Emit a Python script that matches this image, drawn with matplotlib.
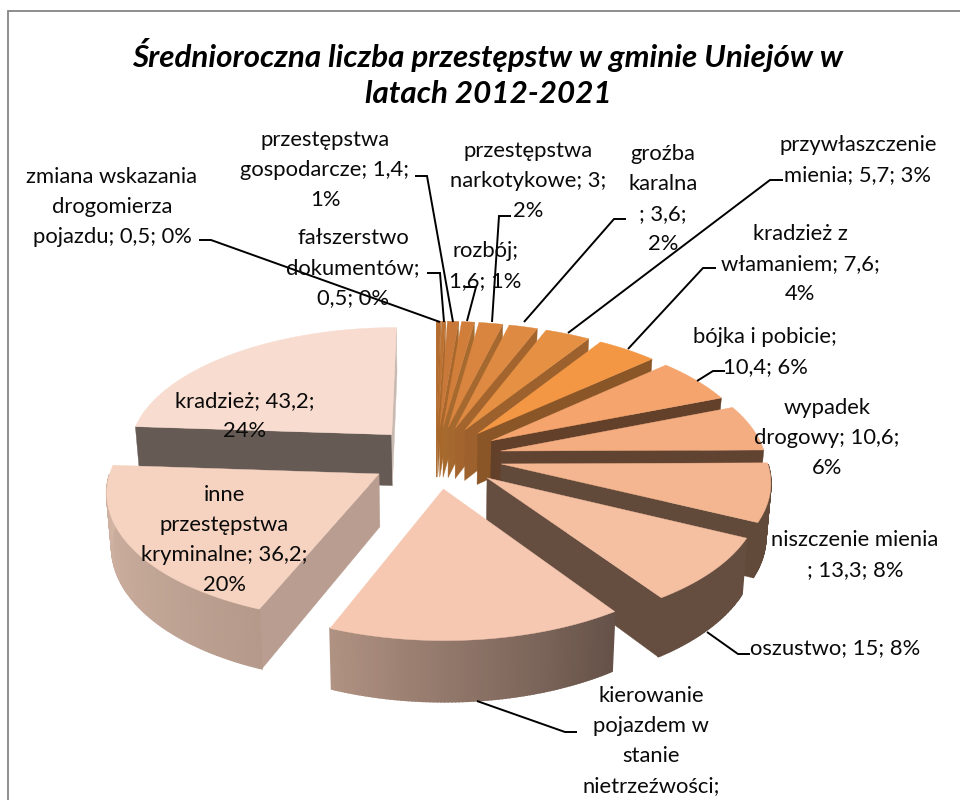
import numpy as np
import matplotlib
matplotlib.use("Agg")
import matplotlib.pyplot as plt
from matplotlib.colors import to_rgb

plt.rcParams['font.family'] = ['Lato', 'DejaVu Sans']

categories = ["zmiana wskazania drogomierza pojazdu", "fałszerstwo dokumentów",
              "przestępstwa gospodarcze", "rozbój", "przestępstwa narkotykowe",
              "groźba karalna", "przywłaszczenie mienia", "kradzież z włamaniem",
              "bójka i pobicie", "wypadek drogowy", "niszczenie mienia", "oszustwo",
              "kierowanie pojazdem w stanie nietrzeźwości",
              "inne przestępstwa kryminalne", "kradzież"]
values = [0.5, 0.5, 1.4, 1.6, 3, 3.6, 5.7, 7.6, 10.4, 10.6, 13.3, 15, 28, 36.2, 43.2]
label_texts = ["zmiana wskazania\ndrogomierza\npojazdu; 0,5; 0%",
               "fałszerstwo\ndokumentów;\n0,5; 0%",
               "przestępstwa\ngospodarcze; 1,4;\n1%",
               "rozbój;\n1,6; 1%",
               "przestępstwa\nnarkotykowe; 3;\n2%",
               "groźba\nkaralna\n; 3,6;\n2%",
               "przywłaszczenie\nmienia; 5,7; 3%",
               "kradzież z\nwłamaniem; 7,6;\n4%",
               "bójka i pobicie;\n10,4; 6%",
               "wypadek\ndrogowy; 10,6;\n6%",
               "niszczenie mienia\n; 13,3; 8%",
               "oszustwo; 15; 8%",
               "kierowanie\npojazdem w\nstanie\nnietrzeźwości;",
               "inne\nprzestępstwa\nkryminalne; 36,2;\n20%",
               "kradzież; 43,2;\n24%"]
label_xy = [(112, 207), (353, 268), (325, 170), (485, 266), (528, 181), (663, 199), (858, 160),
            (800, 264), (765, 352), (827, 438), (855, 555), (835, 648), (651, 741), (224, 540), (245, 416)]
top_colors = ["#B56B2E", "#BD7232", "#C87838", "#D17E3B", "#D9843F", "#DF8A42", "#E59043", "#F39745",
              "#F4A46C", "#F4AD81", "#F4B690", "#F5BFA2", "#F6C8B1", "#F6D3C1", "#F8DCD0"]
radial_colors = ["#A8682C", "#A8682C", "#A8682C", "#A66A2F", "#A5682E", "#A3652D", "#9C612C", "#8A5628",
                 "#63402A", "#604331", "#624A3A", "#654D3F", "#7A6252", "#B89D90", "#665A54"]
rim_left = ["#A8682C"] * 8 + ["#63402A", "#604331", "#624A3A", "#654D3F", "#B09282", "#D4B6A6", "#665A54"]
rim_right = ["#A8682C"] * 8 + ["#63402A", "#604331", "#624A3A", "#654D3F", "#655148", "#B59A8B", "#665A54"]
leaders = [[(199, 240), (211, 240), (440, 322)], [(427, 273), (440, 273), (444, 322)],
           [(415, 176), (427, 176), (453, 322)], [(465, 287), (476, 287), (467, 321)],
           [(511, 216), (499, 216), (492, 322)], [(626, 219), (614, 219), (524, 322)],
           [(783, 180), (770, 180), (568, 333)], [(716, 268), (703, 268), (628, 349)],
           [(725, 371), (713, 371), (697, 381)], None, None,
           [(750, 654), (738, 654), (707, 632)], [(577, 732), (565, 732), (477, 701)], None, None]
title_text = "Średnioroczna liczba przestępstw w gminie Uniejów w\nlatach 2012-2021"

CX, CY, A, B, P, EXPLODE, DEPTH = 436, 457, 265, 125, 0.12, 0.25, 52


def project(X, Y, z=0.0):
    s = 1 + P * Y
    x = CX + A * X / s
    y = CY - B * Y / s + z * DEPTH / s
    x = CX + (x - CX) * (1 - 0.015 * z)
    return x, y


fig = plt.figure(figsize=(9.6, 8), dpi=100)
ax = fig.add_axes([0, 0, 1, 1])
ax.set_xlim(0, 960)
ax.set_ylim(800, 0)
ax.axis("off")

ax.plot([960, 8, 8], [11, 11, 800], color="#868686", lw=1.3, solid_joinstyle="miter")

total = sum(values)
edges = np.concatenate([[0], np.cumsum(values)]) / total * 2 * np.pi
slices = []
for i in range(len(values)):
    t0, t1 = edges[i], edges[i + 1]
    slices.append((np.cos((t0 + t1) / 2), i, t0, t1))
slices.sort(key=lambda s: -s[0])

for _, i, t0, t1 in slices:
    tm = (t0 + t1) / 2
    ox, oy = EXPLODE * np.sin(tm), EXPLODE * np.cos(tm)
    th = np.linspace(t0, t1, max(int(np.degrees(t1 - t0) * 1.5), 3))
    rx, ry = ox + np.sin(th), oy + np.cos(th)

    def poly(xs, ys, color, lw=0.3):
        ax.fill(xs, ys, facecolor=color, edgecolor=color, lw=lw, zorder=2)

    def radial(t, color):
        X, Y = ox + np.sin(t), oy + np.cos(t)
        a0 = project(ox, oy)
        a1 = project(ox, oy, 1)
        r0 = project(X, Y)
        r1 = project(X, Y, 1)
        poly([a0[0], r0[0], r1[0], a1[0]], [a0[1], r0[1], r1[1], a1[1]], color)

    ex0 = project(ox + np.sin(t0), oy + np.cos(t0))[0]
    ex1 = project(ox + np.sin(t1), oy + np.cos(t1))[0]
    ax0 = project(ox, oy)[0]
    if ex0 < ax0:
        radial(t0, radial_colors[i])
    if ex1 > ax0:
        radial(t1, "#C9BAB1" if i == len(values) - 1 else radial_colors[i])

    # outer wall, front facing part only, shaded from left to right
    c_left, c_right = np.array(to_rgb(rim_left[i])), np.array(to_rgb(rim_right[i]))
    xt, yt = project(rx, ry)
    xb, yb = project(rx, ry, 1)
    for k in range(len(th) - 1):
        if np.cos((th[k] + th[k + 1]) / 2) >= 0:
            continue
        f = (k + 0.5) / (len(th) - 1)
        col = c_right + (c_left - c_right) * f
        poly([xt[k], xt[k + 1], xb[k + 1], xb[k]], [yt[k], yt[k + 1], yb[k + 1], yb[k]], tuple(col), lw=1.2)

    ax0_, ay0_ = project(ox, oy)
    poly(np.r_[ax0_, xt], np.r_[ay0_, yt], top_colors[i])

for path in leaders:
    if path is not None:
        xs, ys = zip(*path)
        ax.plot(xs, ys, color="black", lw=1.4, zorder=3, solid_capstyle="butt", solid_joinstyle="miter")

for text, (x, y) in zip(label_texts, label_xy):
    ax.text(x, y, text, ha="center", va="center", fontsize=15.8, color="#0A0A0A",
            linespacing=1.62, zorder=4)

ax.text(488, 73, title_text, ha="center", va="center", fontsize=22.6, fontweight="bold",
        fontstyle="italic", color="black", linespacing=1.36, zorder=4)

fig.savefig("out.png", dpi=100)
